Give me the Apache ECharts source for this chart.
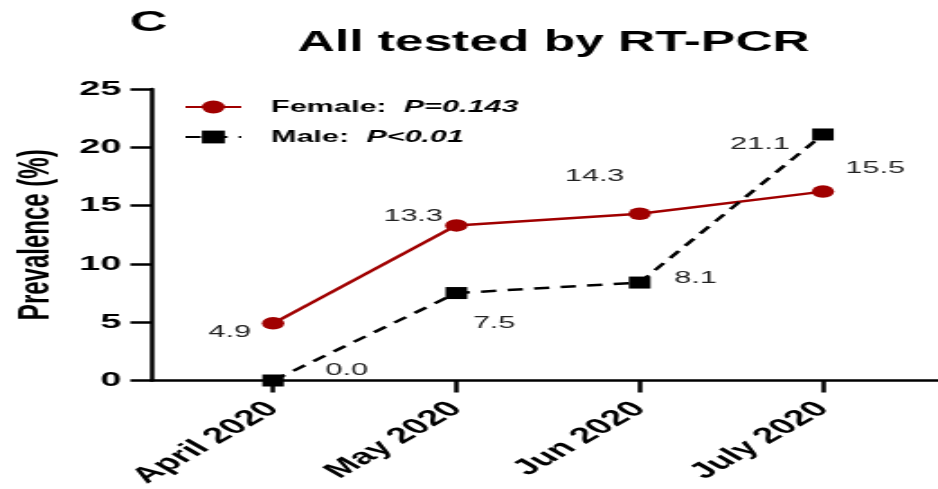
<!DOCTYPE html>
<html>
<head>
<meta charset="utf-8">
<script src="https://cdn.jsdelivr.net/npm/echarts@6/dist/echarts.min.js"></script>
<style>
html, body { margin: 0; padding: 0; overflow: hidden; background: #fff; }
/* the original figure is stretched sideways, so draw narrow and widen it */
#main { width: 521px; height: 489px; transform: scaleX(1.8004); transform-origin: 0 0; }
</style>
</head>
<body>
<div id="main"></div>
<script>
var months = ['April 2020', 'May 2020', 'Jun 2020', 'July 2020'];
var female = [4.9, 13.3, 14.3, 16.2];
var femaleText = ['4.9', '13.3', '14.3', '15.5'];
var male = [0, 7.5, 8.4, 21.1];
var maleText = ['0.0', '7.5', '8.1', '21.1'];
var pText = ['P=0.143', 'P<0.01'];

// label offsets next to each point
var femaleOff = [[-24, 9], [-24, -9], [-25, -37], [29, -23]];
var maleOff = [[41, -10], [21, 30], [31, -4], [-35, 10]];

var red = '#a00000';
var myChart = echarts.init(document.getElementById('main'));

function points(vals, txt, off) {
	return vals.map(function (v, i) {
		return {
			value: [i, v],
			label: { formatter: txt[i], offset: off[i] }
		};
	});
}

var labelStyle = {
	show: true,
	position: 'inside',
	fontFamily: 'Liberation Sans',
	fontSize: 17,
	color: '#222'
};

var option = {
	animation: false,
	title: [{
		text: 'C',
		left: 72,
		top: 8,
		padding: 0,
		textStyle: { fontFamily: 'Liberation Sans', fontWeight: 'bold', fontSize: 29, color: '#000' }
	}, {
		text: 'All tested by RT-PCR',
		left: 307.5,
		textAlign: 'center',
		top: 29,
		padding: 0,
		textStyle: { fontFamily: 'Liberation Sans', fontWeight: 'bold', fontSize: 28.6, color: '#000' }
	}],
	legend: {
		orient: 'vertical',
		left: 102,
		top: 97,
		padding: 0,
		itemWidth: 31,
		itemHeight: 16,
		itemGap: 10,
		data: ['Female', 'Male'],
		formatter: function (name) {
			return name + ':  {i|' + pText[name === 'Female' ? 0 : 1] + '}';
		},
		textStyle: {
			fontFamily: 'Liberation Sans',
			fontWeight: 'bold',
			fontSize: 17,
			color: '#000',
			lineHeight: 20,
			padding: [0, 0, 0, 11.5],
			rich: {
				i: { fontFamily: 'Liberation Sans', fontWeight: 'bold', fontStyle: 'italic', fontSize: 17, color: '#000' }
			}
		}
	},
	grid: { left: 84.4, right: 0, top: 89, bottom: 108.5, outerBoundsMode: 'none' },
	xAxis: {
		type: 'value',
		min: -0.661,
		max: 3.628,
		splitLine: { show: false },
		axisLine: { show: true, lineStyle: { color: '#000', width: 2.5 } },
		axisTick: { show: true, length: 12, customValues: [0, 1, 2, 3], lineStyle: { color: '#000', width: 2.5 } },
		axisLabel: {
			customValues: [0, 1, 2, 3],
			formatter: function (v) { return months[Math.round(v)]; },
			rotate: 45,
			margin: 25,
			fontFamily: 'Liberation Sans',
			fontWeight: 'bold',
			fontSize: 22,
			color: '#000'
		}
	},
	yAxis: {
		type: 'value',
		min: 0,
		max: 25,
		interval: 5,
		name: 'Prevalence (%)',
		nameLocation: 'middle',
		nameGap: 52,
		nameTextStyle: { fontFamily: 'Liberation Sans', fontWeight: 'bold', fontSize: 24, color: '#000' },
		splitLine: { show: false },
		axisLine: { show: true, onZero: false, lineStyle: { color: '#000', width: 2.5 } },
		axisTick: { show: true, length: 12, lineStyle: { color: '#000', width: 2.5 } },
		axisLabel: {
			margin: 17,
			fontFamily: 'Liberation Sans',
			fontWeight: 'bold',
			fontSize: 21,
			color: '#000'
		}
	},
	series: [{
		name: 'Female',
		type: 'line',
		symbol: 'circle',
		symbolSize: 12.5,
		itemStyle: { color: red },
		lineStyle: { color: red, width: 2.5 },
		label: labelStyle,
		data: points(female, femaleText, femaleOff)
	}, {
		name: 'Male',
		type: 'line',
		symbol: 'rect',
		symbolSize: 12,
		itemStyle: { color: '#000' },
		lineStyle: { color: '#000', width: 2.5, type: [8.5, 6.3] },
		label: labelStyle,
		data: points(male, maleText, maleOff)
	}]
};
myChart.setOption(option);
</script>
</body>
</html>
